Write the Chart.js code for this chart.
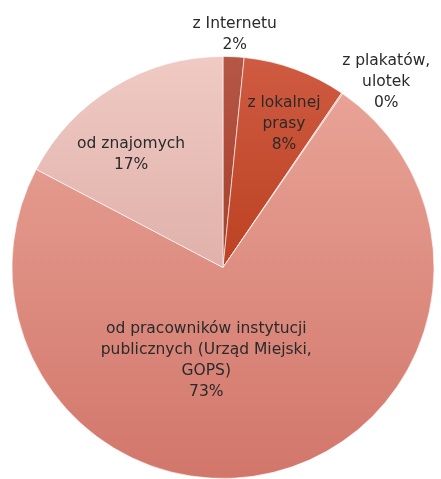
<!DOCTYPE html>
<html lang="pl">
<head>
    <meta charset="UTF-8">
    <title>Źródła informacji</title>
    <script src="https://cdn.jsdelivr.net/npm/chart.js"></script>
    <style>
        html, body {
            margin: 0;
            padding: 0;
            background: #ffffff;
        }
        .wrap {
            width: 441px;
            height: 479px;
            position: relative;
        }
    </style>
</head>
<body>
    <div class="wrap">
        <canvas id="myChart"></canvas>
    </div>
    <script>
        // data (percent of answers)
        const labels = [
            ['z Internetu'],
            ['z lokalnej', 'prasy'],
            ['z plakatów,', 'ulotek'],
            ['od pracowników instytucji', 'publicznych (Urząd Miejski,', 'GOPS)'],
            ['od znajomych']
        ];
        const values = [1.6, 7.9, 0.1, 73.1, 17.3];

        // top / bottom colours of each slice gradient
        const topColors = ['#b55646', '#cf5b42', '#e9a497', '#eaa79a', '#f0cac4'];
        const bottomColors = ['#962a0c', '#a82800', '#d4766a', '#d2766a', '#cf9890'];

        // where the label sits: fraction of radius, angle shift in degrees
        const labelRadius = [1.105, 0.74, 1.17, 0.45, 0.69];
        const labelShift = [0, 3, 7, 24, -8];

        function sliceFill(ctx) {
            const chart = ctx.chart;
            const area = chart.chartArea;
            if (!area) return topColors[ctx.dataIndex];
            const g = chart.ctx.createLinearGradient(0, area.top, 0, area.bottom);
            g.addColorStop(0, topColors[ctx.dataIndex]);
            g.addColorStop(1, bottomColors[ctx.dataIndex]);
            return g;
        }

        const sliceLabels = {
            id: 'sliceLabels',
            afterDatasetsDraw(chart) {
                const c = chart.ctx;
                const meta = chart.getDatasetMeta(0);
                const total = values.reduce((a, b) => a + b, 0);
                c.save();
                c.font = '15.5px "DejaVu Sans", sans-serif';
                c.fillStyle = '#2a2a2a';
                c.textAlign = 'center';
                c.textBaseline = 'middle';
                meta.data.forEach((arc, i) => {
                    const p = arc.getProps(['x', 'y', 'startAngle', 'endAngle', 'outerRadius']);
                    const mid = (p.startAngle + p.endAngle) / 2 + labelShift[i] * Math.PI / 180;
                    const r = p.outerRadius * labelRadius[i];
                    const x = p.x + Math.cos(mid) * r;
                    const y = p.y + Math.sin(mid) * r;
                    const lines = labels[i].concat([Math.round(values[i] / total * 100) + '%']);
                    const lh = 21;
                    const y0 = y - (lines.length - 1) * lh / 2;
                    lines.forEach((t, k) => c.fillText(t, x, y0 + k * lh));
                });
                c.restore();
            }
        };

        const ctx = document.getElementById('myChart').getContext('2d');
        const myChart = new Chart(ctx, {
            type: 'pie',
            data: {
                labels: labels.map(l => l.join(' ')),
                datasets: [{
                    data: values,
                    backgroundColor: sliceFill,
                    borderColor: 'rgba(255, 255, 255, 0.6)',
                    borderWidth: 1
                }]
            },
            options: {
                responsive: true,
                maintainAspectRatio: false,
                animation: false,
                layout: {
                    padding: { left: 11, right: 6, top: 56, bottom: 0 }
                },
                plugins: {
                    legend: { display: false },
                    tooltip: { enabled: false }
                }
            },
            plugins: [sliceLabels]
        });
    </script>
</body>
</html>
